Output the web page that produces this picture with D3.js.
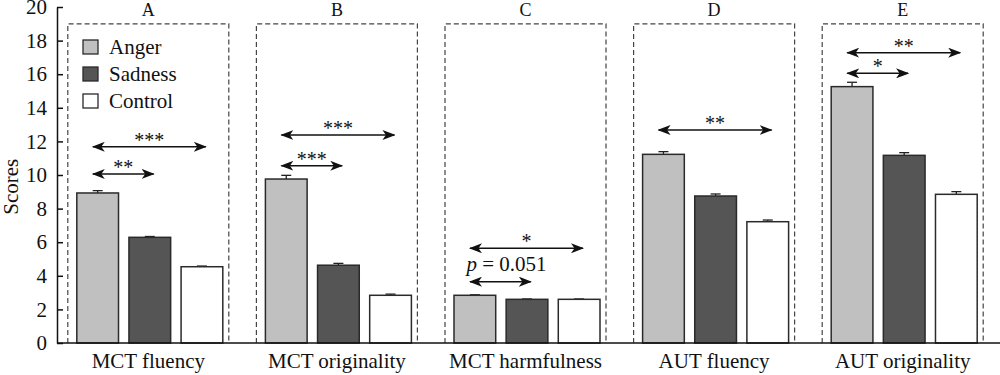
<!DOCTYPE html>
<html>
<head>
<meta charset="utf-8">
<script src="https://cdn.jsdelivr.net/npm/d3@7"></script>
<style>
  body { margin: 0; background: #fff; }
  svg text { font-family: "Liberation Serif", "Times New Roman", serif; fill: #111; }
</style>
</head>
<body>
<script>
    var panels = ["A", "B", "C", "D", "E"];
    var measures = ["MCT fluency", "MCT originality", "MCT harmfulness", "AUT fluency", "AUT originality"];
    var groups = ["Anger", "Sadness", "Control"];
    var groupColors = ["#c0c0c0", "#555555", "#ffffff"];

    var angerMeans = [8.93, 9.76, 2.84, 11.23, 15.26];
    var angerSE = [0.14, 0.22, 0.03, 0.16, 0.26];
    var sadnessMeans = [6.29, 4.63, 2.6, 8.75, 11.17];
    var sadnessSE = [0.05, 0.11, 0.02, 0.12, 0.16];
    var controlMeans = [4.54, 2.84, 2.6, 7.22, 8.85];
    var controlSE = [0.04, 0.07, 0.02, 0.1, 0.16];

    // measure, from group, to group, arrow height (score), label
    var comparisons = [
      ["MCT fluency", "Anger", "Sadness", 10.06, "**"],
      ["MCT fluency", "Anger", "Control", 11.68, "***"],
      ["MCT originality", "Anger", "Sadness", 10.55, "***"],
      ["MCT originality", "Anger", "Control", 12.38, "***"],
      ["MCT harmfulness", "Anger", "Sadness", 3.65, "p = 0.051"],
      ["MCT harmfulness", "Anger", "Control", 5.64, "*"],
      ["AUT fluency", "Anger", "Control", 12.68, "**"],
      ["AUT originality", "Anger", "Sadness", 16.05, "*"],
      ["AUT originality", "Anger", "Control", 17.28, "**"]
    ];

    var yTicks = [0, 2, 4, 6, 8, 10, 12, 14, 16, 18, 20];
    var boxTop = 19;

    var width = 1000, height = 375;
    var axisX = 57;

    var svg = d3.select("body").append("svg")
      .attr("width", width)
      .attr("height", height);

    var x = d3.scaleBand().domain(measures).range([54, 997]);
    var xi = d3.scaleBand().domain(groups).range([-71.5, 74.5]).paddingInner(0.2);
    var y = d3.scaleLinear().domain([0, 20]).range([343, 7]);

    var rows = [];
    measures.forEach(function(m, i) {
      rows.push({m: m, g: "Anger", v: angerMeans[i], se: angerSE[i]});
      rows.push({m: m, g: "Sadness", v: sadnessMeans[i], se: sadnessSE[i]});
      rows.push({m: m, g: "Control", v: controlMeans[i], se: controlSE[i]});
    });

    function cx(m) { return x(m) + x.bandwidth() / 2; }

    //arrow heads
    svg.append("defs").append("marker")
      .attr("id", "head")
      .attr("viewBox", "0 0 13 10")
      .attr("markerUnits", "userSpaceOnUse")
      .attr("markerWidth", 13)
      .attr("markerHeight", 10)
      .attr("refX", 12)
      .attr("refY", 5)
      .attr("orient", "auto-start-reverse")
    .append("path")
      .attr("d", "M0,0 L13,5 L0,10 L3.5,5 Z")
      .attr("fill", "#111");

    //dashed panel boxes
    svg.selectAll(".box")
      .data(measures)
      .enter().append("path")
      .attr("class", "box")
      .attr("fill", "none")
      .attr("stroke", "#444")
      .attr("stroke-width", 1.2)
      .attr("stroke-dasharray", "5,3")
      .attr("d", function(m) {
        var l = cx(m) + xi("Anger") - 9;
        var r = cx(m) + xi("Control") + xi.bandwidth() + 6;
        return "M" + l + "," + y(0) + "V" + y(boxTop) + "H" + r + "V" + y(0);
      });

    //panel letters
    svg.selectAll(".letter")
      .data(measures)
      .enter().append("text")
      .attr("x", function(m) { return cx(m); })
      .attr("y", 15.5)
      .attr("text-anchor", "middle")
      .style("font-size", "18px")
      .text(function(m, i) { return panels[i]; });

    //error bars (upper only)
    var eb = svg.selectAll(".err").data(rows).enter().append("g").attr("class", "err")
      .attr("stroke", "#222").attr("stroke-width", 1.3);
    eb.append("line")
      .attr("x1", function(d) { return cx(d.m) + xi(d.g) + xi.bandwidth() / 2; })
      .attr("x2", function(d) { return cx(d.m) + xi(d.g) + xi.bandwidth() / 2; })
      .attr("y1", function(d) { return y(d.v); })
      .attr("y2", function(d) { return y(d.v + d.se); });
    eb.append("line")
      .attr("x1", function(d) { return cx(d.m) + xi(d.g) + xi.bandwidth() / 2 - 5; })
      .attr("x2", function(d) { return cx(d.m) + xi(d.g) + xi.bandwidth() / 2 + 5; })
      .attr("y1", function(d) { return y(d.v + d.se); })
      .attr("y2", function(d) { return y(d.v + d.se); });

    //bars
    svg.selectAll(".bar")
      .data(rows)
      .enter().append("rect")
      .attr("class", "bar")
      .attr("x", function(d) { return cx(d.m) + xi(d.g); })
      .attr("width", xi.bandwidth())
      .attr("y", function(d) { return y(d.v); })
      .attr("height", function(d) { return y(0) - y(d.v); })
      .attr("fill", function(d) { return groupColors[groups.indexOf(d.g)]; })
      .attr("stroke", "#2a2a2a")
      .attr("stroke-width", 1.5);

    //significance arrows
    comparisons.forEach(function(c) {
      var x1 = cx(c[0]) + xi(c[1]) + 16;
      var x2 = cx(c[0]) + xi(c[2]) + xi.bandwidth() - 17;
      var yy = y(c[3]);
      svg.append("line")
        .attr("x1", x1).attr("x2", x2)
        .attr("y1", yy).attr("y2", yy)
        .attr("stroke", "#111")
        .attr("stroke-width", 1.5)
        .attr("marker-start", "url(#head)")
        .attr("marker-end", "url(#head)");
      if (c[4].indexOf("p") === 0) {
        var t = svg.append("text")
          .attr("x", (x1 + x2) / 2 + 6)
          .attr("y", yy - 10.5)
          .attr("text-anchor", "middle")
          .style("font-size", "21px");
        t.append("tspan").style("font-style", "italic").text("p");
        t.append("tspan").text(" = 0.051");
      } else {
        svg.append("text")
          .attr("x", (x1 + x2) / 2)
          .attr("y", yy)
          .attr("text-anchor", "middle")
          .style("font-size", "20px")
          .text(c[4]);
      }
    });

    //Y axis
    var yAxis = svg.append("g")
      .attr("transform", "translate(" + axisX + ",0)")
      .call(d3.axisLeft(y).tickValues(yTicks).tickSizeInner(-6).tickSizeOuter(0).tickPadding(10));
    yAxis.selectAll("text").style("font-size", "21px").attr("fill", "#111");
    yAxis.selectAll("line, path").attr("stroke", "#111").attr("stroke-width", 1.5);

    //X axis
    var xAxis = svg.append("g")
      .attr("transform", "translate(0," + y(0) + ")")
      .call(d3.axisBottom(x).tickSize(0).tickPadding(10));
    xAxis.select(".domain").remove();
    xAxis.selectAll("text").style("font-size", "21px").attr("fill", "#111");
    svg.append("line")
      .attr("x1", axisX).attr("x2", width)
      .attr("y1", y(0)).attr("y2", y(0))
      .attr("stroke", "#111").attr("stroke-width", 1.5);

    //y label
    svg.append("text")
      .attr("transform", "translate(18," + y(9.3) + ") rotate(-90)")
      .attr("text-anchor", "middle")
      .style("font-size", "21px")
      .text("Scores");

    //legend
    var legend = svg.selectAll(".legend")
      .data(groups)
      .enter().append("g")
      .attr("transform", function(d, i) { return "translate(83," + (40 + i * 27) + ")"; });
    legend.append("rect")
      .attr("width", 15).attr("height", 14)
      .attr("fill", function(d, i) { return groupColors[i]; })
      .attr("stroke", "#2a2a2a").attr("stroke-width", 1.3);
    legend.append("text")
      .attr("x", 26).attr("y", 14)
      .style("font-size", "21px")
      .text(function(d) { return d; });
</script>
</body>
</html>
